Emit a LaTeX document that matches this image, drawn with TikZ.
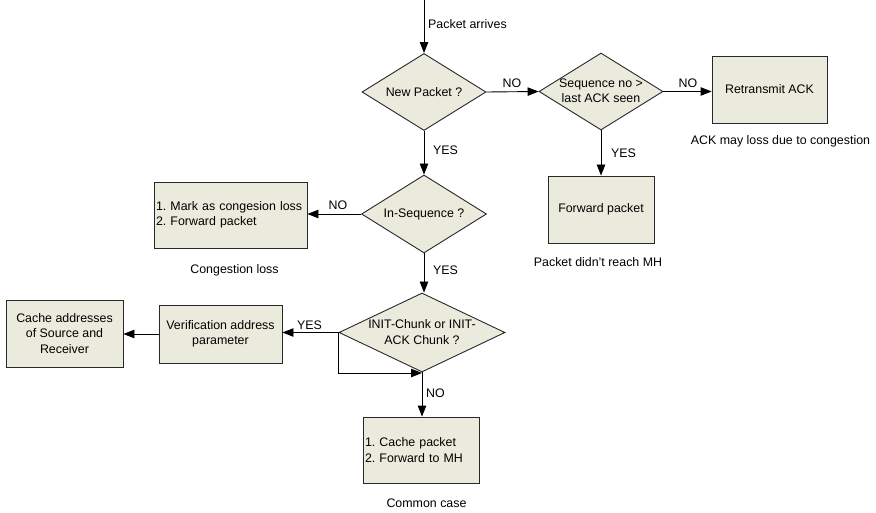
\documentclass[tikz,border=0pt]{standalone}
\usepackage{fontspec}
\setmainfont{Liberation Sans}
\usetikzlibrary{shapes.geometric,arrows.meta}
\definecolor{boxfill}{RGB}{235,235,221}
\definecolor{edgecol}{RGB}{40,40,40}
\tikzset{
  base/.style={font=\fontsize{12.4}{15.5}\selectfont\frenchspacing},
  dec/.style={shape=diamond, draw=edgecol, fill=boxfill, line width=0.9pt, inner sep=0pt},
  proc/.style={shape=rectangle, draw=edgecol, fill=boxfill, line width=0.9pt, inner sep=3pt, align=center, base},
  lproc/.style={proc, align=left, inner sep=2pt},
  txt/.style={base, inner sep=0pt, align=center},
  arr/.style={draw=black, line width=0.9pt, -{Triangle[length=11pt,width=8.5pt]}},
}
\begin{document}
\begin{tikzpicture}[x=1pt,y=-1pt]
\useasboundingbox[fill=white] (0,0) rectangle (876,513);
% decisions
\node[dec, minimum width=124pt, minimum height=77pt] (d1) at (424,92) {};
\node[txt] (t1) at (d1) {New Packet ?};
\node[dec, minimum width=124pt, minimum height=77pt] (d2) at (601,91.5) {};
\node[txt] (t2) at (601,90.5) {Sequence no >\\last ACK seen};
\node[dec, minimum width=125pt, minimum height=78pt] (d3) at (424,214) {};
\node[txt] (t3) at (d3) {In-Sequence ?};
\node[dec, minimum width=166pt, minimum height=79pt] (d4) at (422,332.5) {};
\node[txt] (t4) at (422,332) {INIT-Chunk or INIT-\\ACK Chunk ?};
% processes
\node[proc, minimum width=115pt, minimum height=67pt] (ret) at (769.5,89.5) {Retransmit ACK};
\node[proc, minimum width=106pt, minimum height=67pt] (fwd) at (601,209.5) {Forward packet};
\node[lproc, text width=149pt, minimum height=66pt] (mark) at (230.5,215) {1. Mark as congesion loss\\2. Forward packet};
\node[proc, minimum width=123pt, minimum height=58pt] (ver) at (220.5,334) {Verification address\\parameter};
\node[proc, minimum width=117pt, minimum height=67pt] (cache) at (64.5,333.5) {Cache addresses\\of Source and\\Receiver};
\node[lproc, text width=112pt, minimum height=66pt] (cp) at (421,450) {1. Cache packet\\2. Forward to MH};
% captions
\node[txt] (c1) at (780.5,141) {ACK may loss due to congestion};
\node[txt] (c2) at (598,262) {Packet didn’t reach MH};
\node[txt] (c3) at (234.5,270) {Congestion loss};
\node[txt] (c4) at (426.5,503) {Common case};
% connectors
\coordinate (start) at (424,0);
\draw[arr] (start) -- (d1.north);
\node[txt, anchor=west] (lpa) at (428,24) {Packet arrives};
\draw[arr] (d1.east) -- (d2.west);
\node[txt] (l1) at (512,83) {NO};
\draw[arr] (d2.east) -- (d2.east -| ret.west);
\node[txt] (l2) at (688,83) {NO};
\draw[arr] (d2.south) -- (fwd.north);
\node[txt, anchor=west] (l3) at (611,153) {YES};
\draw[arr] (d1.south) -- (d3.north);
\node[txt, anchor=west] (l4) at (433,150) {YES};
\draw[arr] (d3.west) -- (d3.west -| mark.east);
\node[txt] (l5) at (338,205) {NO};
\draw[arr] (d3.south) -- (d3.south |- d4.north);
\node[txt, anchor=west] (l6) at (433,270) {YES};
\draw[arr] (d4.west) -- (d4.west -| ver.east);
\node[txt] (l7) at (309.5,325) {YES};
\draw[arr] (ver.west) -- (ver.west -| cache.east);
\coordinate (lpy) at (0,373);
\draw[arr] (d4.west) -- (d4.west |- lpy) -- (d4.south |- lpy);
\draw[arr] (d4.south) -- (d4.south |- cp.north);
\node[txt, anchor=west] (l8) at (426,393) {NO};
\end{tikzpicture}
\end{document}
